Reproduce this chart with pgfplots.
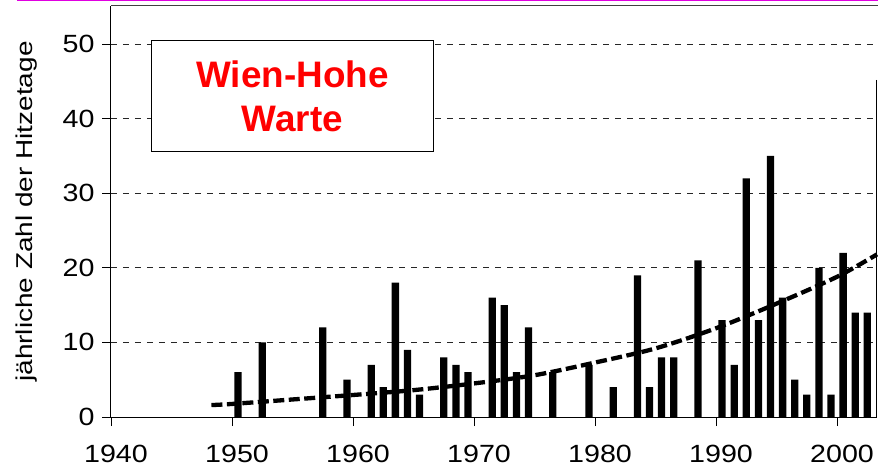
\documentclass[border=0pt]{standalone}
\usepackage{pgfplots}
\pgfplotsset{compat=1.18}
\usepackage{fontspec}
\setmainfont{Liberation Sans}
\usepackage{graphicx}
\definecolor{topmag}{RGB}{224,0,224}
\newcommand{\tl}[1]{\scalebox{1.15}[1]{#1}}
\begin{document}
\begin{tikzpicture}
\useasboundingbox (-111bp,-53bp) rectangle (767bp,417bp);
\begin{axis}[
  at={(0,0)}, anchor=south west,
  scale only axis, width=766bp, height=411bp,
  xmin=1940, xmax=2003.3, ymin=0, ymax=55.1,
  axis x line*=bottom, axis y line*=left,
  axis line style={-, black, line width=1bp},
  xtick={1940,1950,1960,1970,1980,1990,2000},
  xticklabels={\tl{1940},\tl{1950},\tl{1960},\tl{1970},\tl{1980},\tl{1990},\tl{2000}},
  ytick={0,10,20,30,40,50},
  yticklabels={\tl{0},\tl{10},\tl{20},\tl{30},\tl{40},\tl{50}},
  tick align=outside, major tick length=9bp,
  tick style={black, line width=0.9bp},
  ticklabel style={font=\fontsize{25}{28}\selectfont},
  xticklabel style={xshift=5bp, yshift=-16bp},
  yticklabel style={xshift=-4bp},
  ymajorgrids,
  major grid style={black!85, line width=0.8bp, dash pattern=on 6bp off 6bp},
  ylabel={\scalebox{1.22}[1]{jährliche Zahl der Hitzetage}},
  ylabel style={font=\fontsize{23}{26}\selectfont, at={(axis description cs:-0.1097,0.5)}, anchor=center},
  clip=false,
]
\addplot[ybar, bar width=0.6, fill=black, draw=none] coordinates {
(1950.5,6) (1952.5,10) (1957.5,12) (1959.5,5) (1961.5,7) (1962.5,4) (1963.5,18)
(1964.5,9) (1965.5,3) (1967.5,8) (1968.5,7) (1969.5,6) (1971.5,16) (1972.5,15)
(1973.5,6) (1974.5,12) (1976.5,6) (1979.5,7) (1981.5,4) (1983.5,19) (1984.5,4)
(1985.5,8) (1986.5,8) (1988.5,21) (1990.5,13) (1991.5,7) (1992.5,32) (1993.5,13)
(1994.5,35) (1995.5,16) (1996.5,5) (1997.5,3) (1998.5,20) (1999.5,3) (2000.5,22)
(2001.5,14) (2002.5,14)
};
\addplot[smooth, black, line width=4.3bp, dash pattern=on 11bp off 4.5bp] coordinates {
(1948.3,1.6) (1950,1.75) (1955,2.35) (1960,2.95) (1965,3.6) (1970,4.5) (1975,5.6)
(1980,7.3) (1985,9.2) (1990,11.9) (1995,15.2) (2000,18.8) (2003.3,21.8)
};
\draw[black!75, line width=1bp] (rel axis cs:0,1) -- (rel axis cs:1.01,1);
\draw[black, line width=1.3bp] (axis cs:2003.25,45.2) -- (axis cs:2003.25,0);
\end{axis}
\draw[topmag, line width=1.6bp] (-94bp,416.3bp) -- (767bp,416.3bp);
\node[draw=black, line width=1.5bp, fill=white, minimum width=281.6bp, minimum height=111bp, inner sep=0pt]
  at (181.5bp,320.8bp) {};
\node[text=red, align=center, font=\fontsize{37}{44.4}\selectfont\bfseries] at (181.5bp,321bp) {Wien-Hohe\\Warte};
\end{tikzpicture}
\end{document}
